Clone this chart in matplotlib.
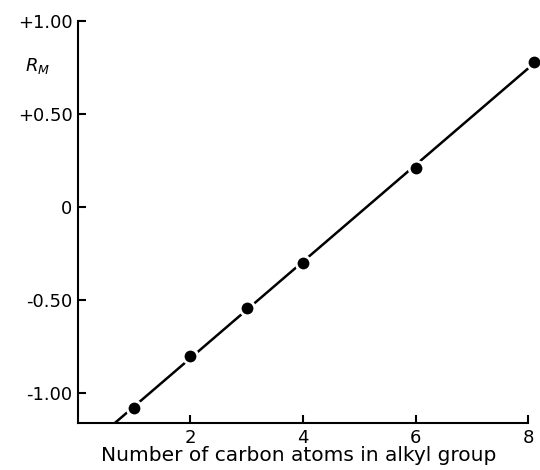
import numpy as np
import matplotlib
matplotlib.use('Agg')
import matplotlib.pyplot as plt

# data
n_carbon = [1, 2, 3, 4, 6, 8.1]
rm_values = [-1.08, -0.80, -0.54, -0.30, 0.21, 0.78]

y_ticks = [1.0, 0.5, 0.0, -0.5, -1.0]
y_ticklabels = ['+1.00', '+0.50', '0', '-0.50', '-1.00']
x_ticks = [2, 4, 6, 8]
x_ticklabels = ['2', '4', '6', '8']

Y_BOTTOM = -1.16

fig = plt.figure(figsize=(5.4, 4.7), dpi=100)
ax = fig.add_axes([0.1444, 0.10, 0.8334, 0.8553])

# least-squares line through the points
m, b = np.polyfit(n_carbon, rm_values, 1)
x_start = (Y_BOTTOM - b) / m
fit_x = np.array([x_start, max(n_carbon)])
ax.plot(fit_x, m * fit_x + b, color='black', linewidth=1.8,
        solid_capstyle='butt', clip_on=False, zorder=2)

ax.plot(n_carbon, rm_values, linestyle='none', marker='o', markersize=10.5,
        markerfacecolor='black', markeredgecolor='white',
        markeredgewidth=2.0, clip_on=False, zorder=3)

ax.set_xlim(0, 8)
ax.set_ylim(Y_BOTTOM, 1.0)
ax.spines[['top', 'right']].set_visible(False)
for s in ('left', 'bottom'):
    ax.spines[s].set_linewidth(1.5)

ax.set_yticks(y_ticks)
ax.set_yticklabels(y_ticklabels)
ax.set_xticks(x_ticks)
ax.set_xticklabels(x_ticklabels)
ax.tick_params(direction='in', length=6, width=1.5, labelsize=13, pad=4)

ax.text(-0.5, 0.76, r'$R_M$', fontsize=13, ha='right', va='center')
ax.set_xlabel('Number of carbon atoms in alkyl group', fontsize=14.5,
              va='center')
ax.xaxis.set_label_coords(0.49, -0.08)

fig.savefig('out.png', dpi=100)
